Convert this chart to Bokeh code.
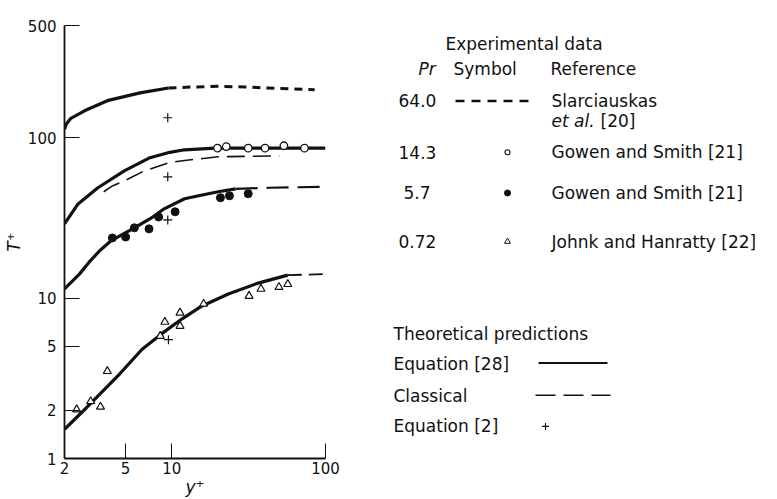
import math
from bokeh.plotting import figure
from bokeh.models import Range1d, FixedTicker
from bokeh.layouts import row
from bokeh.embed import file_html
from bokeh.resources import INLINE
from bokeh.core.properties import value

# ---------------- data ----------------
# Pr = 64.0
pr64_eq28_x = [2.0, 2.05, 2.2, 2.7, 3.8, 6.2, 9.5]
pr64_eq28_y = [113, 121, 132, 147, 170, 190, 204]
pr64_exp_x = [9.5, 14, 20, 30, 42, 60, 85]
pr64_exp_y = [204, 207, 209, 207, 204, 201, 199]

# Pr = 14.3
pr14_eq28_x = [2.0, 2.45, 3.3, 4.9, 7.2, 9.7, 12.1, 19, 100]
pr14_eq28_y = [29, 38.6, 48.7, 62, 75, 81, 84, 86, 86]
pr14_cls_x = [3.6, 4.1, 4.9, 6.6, 9.7, 12.1, 20, 50]
pr14_cls_y = [46, 50, 53.8, 62, 70, 72, 76, 77]
pr14_pts_x = [19.8, 22.6, 31.4, 40.4, 53.6, 73]
pr14_pts_y = [86, 88, 86, 86, 89, 86]

# Pr = 5.7
pr57_eq28_x = [2.0, 2.5, 2.9, 3.4, 4.0, 5.7, 7.5, 8.9, 12.1, 15.2, 20, 26]
pr57_eq28_y = [11.4, 14.1, 16.8, 19.8, 22.7, 27.4, 32, 36, 41.6, 43.6, 46, 47.9]
pr57_cls_x = [26, 43, 100]
pr57_cls_y = [47.9, 48.7, 49.4]
pr57_pts_x = [4.1, 5.0, 5.7, 7.1, 8.2, 10.5, 20.7, 23.7, 31.4]
pr57_pts_y = [23.7, 24.0, 27.4, 27.0, 32.0, 34.5, 42.2, 43.4, 44.7]

# Pr = 0.72
pr072_eq28_x = [2.0, 2.75, 4.55, 6.4, 8.6, 11.6, 15.6, 23.3, 36.4, 56.8]
pr072_eq28_y = [1.52, 2.05, 3.35, 4.8, 6.0, 7.4, 8.9, 10.6, 12.4, 13.9]
pr072_cls_x = [56.8, 100]
pr072_cls_y = [13.9, 14.1]
pr072_pts_x = [2.4, 2.96, 3.43, 3.8, 8.4, 9.0, 11.3, 11.3, 16.1, 31.8, 38, 49.8, 56.8]
pr072_pts_y = [2.02, 2.27, 2.1, 3.5, 5.8, 7.1, 8.1, 6.7, 9.2, 10.3, 11.4, 11.7, 12.2]

# Equation [2]
eq2_x = [9.4, 9.4, 9.4, 9.5]
eq2_y = [133, 57, 30.7, 5.5]

x_ticks = [2, 5, 10, 100]
x_tick_labels = ["2", "5", "10", "100"]
y_ticks = [1, 2, 5, 10, 100, 500]
y_tick_labels = ["1", "2", "5", "10", "100", "500"]

# ---------------- styling ----------------
FONT = "DejaVu Sans"
INK = "#111111"
SOLID_W = 3.2

p = figure(width=353, height=499, x_axis_type="log", y_axis_type="log",
           x_range=Range1d(2, 100), y_range=Range1d(1, 500),
           output_backend="svg", toolbar_location=None,
           min_border_left=59, min_border_right=28, min_border_top=25,
           min_border_bottom=39)
p.outline_line_color = None
p.grid.visible = False

for ax in (p.xaxis[0], p.yaxis[0]):
    ax.axis_line_color = INK
    ax.axis_line_width = 1.8
    ax.major_tick_in = 15
    ax.major_tick_out = 0
    ax.minor_tick_in = 0
    ax.minor_tick_out = 0
    ax.major_tick_line_color = INK
    ax.major_tick_line_width = 1.0
    ax.major_label_text_font = FONT
    ax.major_label_text_font_size = "15px"
    ax.major_label_text_color = INK
    ax.axis_label_text_font = FONT
    ax.axis_label_text_font_size = "17px"
    ax.axis_label_text_font_style = "italic"
    ax.axis_label_text_color = INK

p.xaxis.ticker = FixedTicker(ticks=x_ticks, minor_ticks=[])
p.yaxis.ticker = FixedTicker(ticks=y_ticks, minor_ticks=[])
p.xaxis.major_label_overrides = dict(zip(x_ticks, x_tick_labels))
p.yaxis.major_label_overrides = dict(zip(y_ticks, y_tick_labels))
p.xaxis.major_label_standoff = 3
p.yaxis.major_label_standoff = 8
p.xaxis.axis_label = "y\u207a"
p.yaxis.axis_label = "T\u207a"
p.xaxis.axis_label_standoff = 0
p.yaxis.axis_label_standoff = 1

# curves
p.line(pr64_eq28_x, pr64_eq28_y, line_color=INK, line_width=SOLID_W)
p.line(pr64_exp_x, pr64_exp_y, line_color=INK, line_width=3, line_dash="8 6")
p.line(pr14_eq28_x, pr14_eq28_y, line_color=INK, line_width=SOLID_W)
p.line(pr14_cls_x, pr14_cls_y, line_color=INK, line_width=1.6, line_dash="18 8")
p.line(pr57_eq28_x, pr57_eq28_y, line_color=INK, line_width=SOLID_W)
p.line(pr57_cls_x, pr57_cls_y, line_color=INK, line_width=2.2, line_dash="22 9")
p.line(pr072_eq28_x, pr072_eq28_y, line_color=INK, line_width=SOLID_W)
p.line(pr072_cls_x, pr072_cls_y, line_color=INK, line_width=1.8, line_dash="14 7")

# data points
p.scatter(pr14_pts_x, pr14_pts_y, marker="circle", size=7.5,
          fill_color="white", line_color=INK, line_width=1.3)
p.scatter(pr57_pts_x, pr57_pts_y, marker="circle", size=8,
          fill_color=INK, line_color=INK)
p.scatter(pr072_pts_x, pr072_pts_y, marker="triangle", size=8,
          fill_color="white", line_color=INK, line_width=1.2)
p.scatter(eq2_x, eq2_y, marker="cross", size=9, line_color=INK, line_width=1.2)

# ---------------- legend panel ----------------
q = figure(width=424, height=499, x_range=Range1d(353, 777), y_range=Range1d(499, 0),
           output_backend="svg", toolbar_location=None, min_border=0,
           x_axis_location=None, y_axis_location=None)
q.outline_line_color = None
q.grid.visible = False

plain_x = [445, 453, 550, 398, 551, 600, 398, 551, 403, 551, 398, 551,
           393, 393, 393, 393]
plain_y = [21, 50, 50, 87, 87, 110, 146, 146, 193, 193, 249, 249,
           356, 390, 427, 462]
plain_t = ["Experimental data", "Symbol", "Reference", "64.0", "Slarciauskas", "[20]",
           "14.3", "Gowen and Smith [21]", "5.7", "Gowen and Smith [21]",
           "0.72", "Johnk and Hanratty [22]",
           "Theoretical predictions", "Equation [28]", "Classical", "Equation [2]"]
q.text(x=plain_x, y=plain_y, text=plain_t, text_font=value(FONT),
       text_font_size="17px", text_baseline="middle", text_align="left",
       text_color=INK)
q.text(x=[418, 551], y=[50, 110], text=["Pr", "et al."], text_font=value(FONT),
       text_font_size="17px", text_font_style="italic", text_baseline="middle",
       text_align="left", text_color=INK)

q.line([455, 533], [87, 87], line_color=INK, line_width=2.5, line_dash="9 7")
q.scatter([507], [146], marker="circle", size=5, fill_color="white",
          line_color=INK, line_width=1.1)
q.scatter([507], [193], marker="circle", size=6, fill_color=INK, line_color=INK)
q.scatter([507], [249], marker="triangle", size=6, fill_color="white",
          line_color=INK, line_width=1.0)
q.line([538, 607], [389, 389], line_color=INK, line_width=2)
q.line([535, 610], [426, 426], line_color=INK, line_width=1.5, line_dash="20 8")
q.scatter([545], [462], marker="cross", size=7, line_color=INK, line_width=1.1)

layout = row(p, q)
open("out.html", "w").write(file_html(layout, INLINE))
